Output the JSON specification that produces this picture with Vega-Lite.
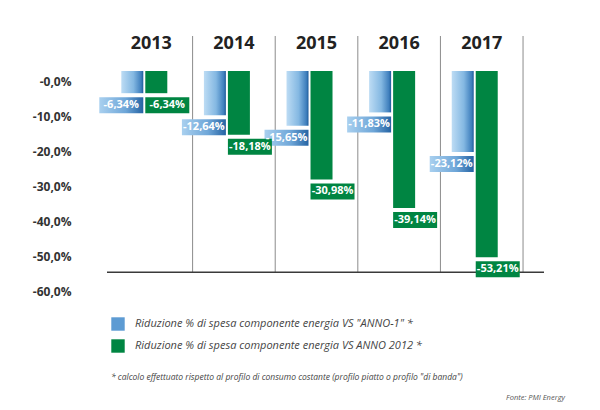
{
  "$schema": "https://vega.github.io/schema/vega-lite/v6.json",
  "width": 437,
  "height": 245,
  "autosize": {"type": "none"},
  "padding": {"left": 107, "top": 36, "right": 56, "bottom": 129},
  "background": "white",
  "config": {
    "view": {"stroke": null},
    "font": "Open Sans"
  },
  "title": {
    "text": "Fonte: PMI Energy",
    "orient": "bottom",
    "anchor": "end",
    "frame": "group",
    "fontSize": 7.5,
    "fontStyle": "italic",
    "fontWeight": "normal",
    "color": "#555555",
    "font": "Open Sans",
    "offset": 12,
    "dx": 21
  },
  "data": {
    "values": [
      {"anno": "2013", "serie": "Riduzione % di spesa componente energia VS \"ANNO-1\" *", "valore": -6.34},
      {"anno": "2013", "serie": "Riduzione % di spesa componente energia VS ANNO 2012 *", "valore": -6.34},
      {"anno": "2014", "serie": "Riduzione % di spesa componente energia VS \"ANNO-1\" *", "valore": -12.64},
      {"anno": "2014", "serie": "Riduzione % di spesa componente energia VS ANNO 2012 *", "valore": -18.18},
      {"anno": "2015", "serie": "Riduzione % di spesa componente energia VS \"ANNO-1\" *", "valore": -15.65},
      {"anno": "2015", "serie": "Riduzione % di spesa componente energia VS ANNO 2012 *", "valore": -30.98},
      {"anno": "2016", "serie": "Riduzione % di spesa componente energia VS \"ANNO-1\" *", "valore": -11.83},
      {"anno": "2016", "serie": "Riduzione % di spesa componente energia VS ANNO 2012 *", "valore": -39.14},
      {"anno": "2017", "serie": "Riduzione % di spesa componente energia VS \"ANNO-1\" *", "valore": -23.12},
      {"anno": "2017", "serie": "Riduzione % di spesa componente energia VS ANNO 2012 *", "valore": -53.21}
    ]
  },
  "transform": [
    {"calculate": "'-' + replace(format(abs(datum.valore), '.2f'), '.', ',') + '%'", "as": "etichetta"}
  ],
  "layer": [
    {
      "transform": [{"filter": "indexof(datum.serie, 'ANNO-1') >= 0"}],
      "mark": {"type": "rule", "color": "#8c8c8c", "strokeWidth": 1},
      "encoding": {
        "x": {"field": "anno", "type": "nominal", "bandPosition": 1, "scale": {"paddingInner": 0, "paddingOuter": 0.145, "align": 0.125}, "axis": null},
        "y": {"datum": 10, "title": null},
        "y2": {"datum": -57.5}
      }
    },
    {
      "data": {"values": [{}]},
      "mark": {"type": "rule", "color": "#3a3a3a", "strokeWidth": 1.5},
      "encoding": {
        "y": {"datum": -57.5, "title": null}
      }
    },
    {
      "transform": [{"filter": "indexof(datum.serie, 'ANNO-1') >= 0"}],
      "mark": {"type": "text", "fontSize": 18, "fontWeight": "bold", "color": "#222222", "baseline": "middle", "font": "Open Sans"},
      "encoding": {
        "x": {"field": "anno", "type": "nominal", "axis": null},
        "y": {"datum": 7.7, "title": null},
        "text": {"field": "anno"}
      }
    },
    {
      "transform": [{"filter": "indexof(datum.serie, 'ANNO-1') >= 0"}],
      "mark": {"type": "bar", "width": 22, "xOffset": -19},
      "encoding": {
        "x": {"field": "anno", "type": "nominal", "axis": null},
        "y": {
          "field": "valore",
          "type": "quantitative",
          "title": null,
          "scale": {"domain": [-60, 10], "nice": false, "zero": false},
          "axis": {
            "values": [0, -10, -20, -30, -40, -50, -60],
            "labelExpr": "'-' + replace(format(abs(datum.value), '.1f'), '.', ',') + '%'",
            "domain": false,
            "ticks": false,
            "grid": false,
            "labelPadding": 36,
            "labelOffset": 10,
            "labelFont": "Open Sans",
            "labelFontSize": 12,
            "labelFontWeight": "bold",
            "labelColor": "#333333"
          }
        },
        "y2": {"datum": 0},
        "color": {
          "condition": {"test": "true", "value": {"gradient": "linear", "x1": 0, "y1": 0, "x2": 1, "y2": 0, "stops": [{"offset": 0, "color": "#bddcf4"}, {"offset": 0.55, "color": "#84b8e2"}, {"offset": 0.9, "color": "#3f7fbd"}, {"offset": 1, "color": "#1f5c9a"}]}},
          "field": "serie",
          "type": "nominal",
          "scale": {"domain": ["Riduzione % di spesa componente energia VS \"ANNO-1\" *", "Riduzione % di spesa componente energia VS ANNO 2012 *"], "range": ["#5d9bd3", "#008542"]},
          "legend": {
            "orient": "none",
            "legendX": 4,
            "legendY": 281,
            "padding": 0,
            "title": "* calcolo effettuato rispetto al profilo di consumo costante (profilo piatto o profilo \"di banda\")",
            "titleOrient": "bottom",
            "titleAnchor": "start",
            "titlePadding": 20,
            "titleFont": "Open Sans",
            "titleFontSize": 8.5,
            "titleFontStyle": "italic",
            "titleFontWeight": "normal",
            "titleColor": "#444444",
            "titleLimit": 600,
            "symbolType": "square",
            "symbolSize": 180,
            "symbolStrokeWidth": 0,
            "labelFont": "Open Sans",
            "labelFontSize": 11,
            "labelFontStyle": "italic",
            "labelColor": "#444444",
            "labelOffset": 10,
            "labelLimit": 500,
            "rowPadding": 8,
            "encode": {
              "symbols": {
                "update": {
                  "fill": [
                    {"test": "indexof(datum.value, 'ANNO-1') >= 0", "value": {"gradient": "linear", "x1": 0, "y1": 0, "x2": 1, "y2": 0, "stops": [{"offset": 0, "color": "#bddcf4"}, {"offset": 0.55, "color": "#84b8e2"}, {"offset": 0.9, "color": "#3f7fbd"}, {"offset": 1, "color": "#1f5c9a"}]}},
                    {"value": "#008542"}
                  ],
                  "strokeWidth": {"value": 0}
                }
              }
            }
          }
        }
      }
    },
    {
      "transform": [{"filter": "indexof(datum.serie, 'ANNO-1') < 0"}],
      "mark": {"type": "bar", "width": 22, "xOffset": 5},
      "encoding": {
        "x": {"field": "anno", "type": "nominal", "axis": null},
        "y": {"field": "valore", "type": "quantitative", "title": null},
        "y2": {"datum": 0},
        "color": {"field": "serie", "type": "nominal"}
      }
    },
    {
      "transform": [{"filter": "indexof(datum.serie, 'ANNO-1') >= 0"}],
      "mark": {"type": "bar", "width": 44, "xOffset": -30, "yOffset": 4, "y2Offset": 20, "fill": {"gradient": "linear", "x1": 0, "y1": 0, "x2": 1, "y2": 0, "stops": [{"offset": 0, "color": "#a9d0ef"}, {"offset": 0.6, "color": "#6ea6d8"}, {"offset": 1, "color": "#2563a3"}]}},
      "encoding": {
        "x": {"field": "anno", "type": "nominal", "axis": null},
        "y": {"field": "valore", "type": "quantitative", "title": null},
        "y2": {"field": "valore"}
      }
    },
    {
      "transform": [{"filter": "indexof(datum.serie, 'ANNO-1') < 0"}],
      "mark": {"type": "bar", "width": 44, "xOffset": 16, "yOffset": 4, "y2Offset": 20, "fill": "#008542"},
      "encoding": {
        "x": {"field": "anno", "type": "nominal", "axis": null},
        "y": {"field": "valore", "type": "quantitative", "title": null},
        "y2": {"field": "valore"}
      }
    },
    {
      "transform": [{"filter": "indexof(datum.serie, 'ANNO-1') >= 0"}],
      "mark": {"type": "text", "xOffset": -30, "yOffset": 12, "baseline": "middle", "align": "center", "color": "white", "fontSize": 11, "fontWeight": "bold", "font": "Open Sans"},
      "encoding": {
        "x": {"field": "anno", "type": "nominal", "axis": null},
        "y": {"field": "valore", "type": "quantitative", "title": null},
        "text": {"field": "etichetta", "type": "nominal"}
      }
    },
    {
      "transform": [{"filter": "indexof(datum.serie, 'ANNO-1') < 0"}],
      "mark": {"type": "text", "xOffset": 16, "yOffset": 12, "baseline": "middle", "align": "center", "color": "white", "fontSize": 11, "fontWeight": "bold", "font": "Open Sans"},
      "encoding": {
        "x": {"field": "anno", "type": "nominal", "axis": null},
        "y": {"field": "valore", "type": "quantitative", "title": null},
        "text": {"field": "etichetta", "type": "nominal"}
      }
    }
  ]
}
